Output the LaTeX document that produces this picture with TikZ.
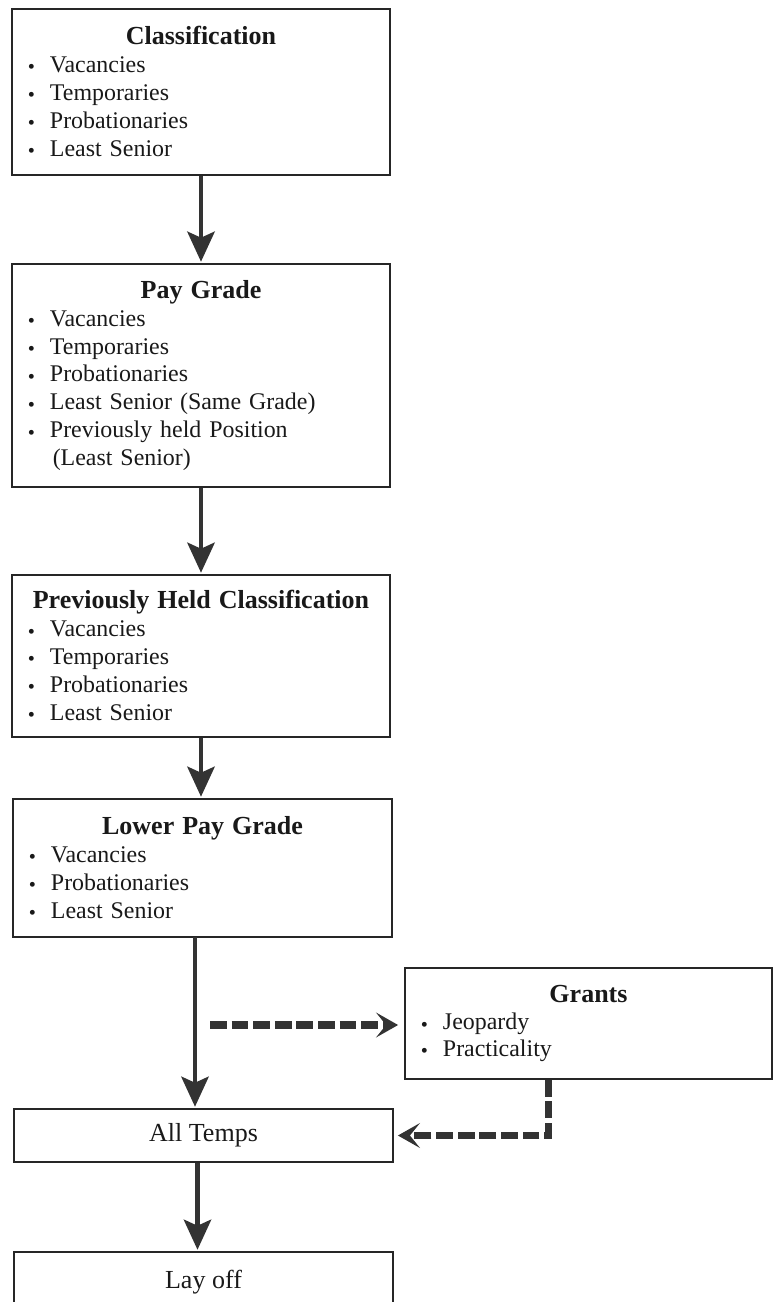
\documentclass[tikz,border=0pt]{standalone}
\usepackage{fontspec}
\setmainfont{Liberation Serif}
\usetikzlibrary{arrows.meta}
\newcommand{\bul}{\makebox[0.55cm][l]{\raisebox{-0.15ex}{\scalebox{0.85}{\textbullet}}}}
\newcommand{\btitle}[1]{\makebox[\linewidth][c]{\fontsize{18.5}{20}\selectfont\bfseries #1}}

\begin{document}
\begin{tikzpicture}[x=0.025cm,y=-0.025cm,
		box/.style={draw=cv,fill=cfv,text=clv,line width=1.2pt,shape=rectangle,inner xsep=0.4cm,inner ysep=0pt,align=left,font=\fontsize{17}{19.9}\selectfont},
		flow/.style={draw=ce,line width=3.4pt,-{Stealth[length=0.75cm,width=0.68cm,inset=0.15cm]}},
		side/.style={draw=ce,line width=5pt,dash pattern=on 0.42cm off 0.12cm,-{Stealth[length=0.55cm,width=0.62cm,inset=0.25cm]}}]
			\definecolor{cv}{rgb}{0.15,0.15,0.15}
			\definecolor{cfv}{rgb}{1.0,1.0,1.0}
			\definecolor{clv}{rgb}{0.1,0.1,0.1}
			\definecolor{ce}{rgb}{0.2,0.2,0.2}
			\useasboundingbox (0,0) rectangle (775,1302);
			%
			\node[box,text width=8.65cm,minimum height=4.15cm] (vcls) at (201,92) {\btitle{Classification}\\ \bul Vacancies\\ \bul Temporaries\\ \bul Probationaries\\ \bul Least Senior};
			\node[box,text width=8.65cm,minimum height=5.575cm] (vpay) at (201,375.5) {\btitle{Pay Grade}\\ \bul Vacancies\\ \bul Temporaries\\ \bul Probationaries\\ \bul Least Senior (Same Grade)\\ \bul Previously held Position\\ \hspace*{0.62cm}(Least Senior)};
			\node[box,text width=8.65cm,minimum height=4.05cm] (vprev) at (201,656) {\btitle{Previously Held Classification}\\ \bul Vacancies\\ \bul Temporaries\\ \bul Probationaries\\ \bul Least Senior};
			\node[box,text width=8.675cm,minimum height=3.45cm] (vlow) at (202.5,868) {\btitle{Lower Pay Grade}\\ \bul Vacancies\\ \bul Probationaries\\ \bul Least Senior};
			\node[box,text width=8.375cm,minimum height=2.775cm,font=\fontsize{17}{19}\selectfont] (vgr) at (588.5,1023.5) {\btitle{Grants}\\ \bul Jeopardy\\ \bul Practicality};
			\node[box,minimum width=9.475cm,minimum height=1.325cm,align=center,font=\fontsize{18.5}{20}\selectfont] (vtemps) at (203.5,1135.5) {All Temps};
			\node[box,minimum width=9.475cm,minimum height=1.5cm,align=center,font=\fontsize{18.5}{20}\selectfont] (vlay) at (203.5,1282) {Lay off};
			\coordinate (vsplit) at (210,1025);
			\coordinate (vdrop) at (195,937);
			%
			\draw[flow,shorten >=1pt] (vcls.south) -- (vpay.north);
			\draw[flow,shorten >=1pt] (vpay.south) -- (vprev.north);
			\draw[flow,shorten >=1pt] (vprev.south) -- (vprev.south |- vlow.north);
			\draw[flow,shorten >=1pt] (vdrop) -- (vdrop |- vtemps.north);
			\draw[flow,shorten >=1pt] ([xshift=-0.15cm]vtemps.south) -- ([xshift=-0.15cm]vlay.north);
			\draw[side,shorten >=0.15cm] (vsplit) -- (vgr.west |- vsplit);
			\draw[side,shorten >=0.1cm] ([xshift=-1cm]vgr.south) |- (vtemps.east);
			%
		\end{tikzpicture}
\end{document}
